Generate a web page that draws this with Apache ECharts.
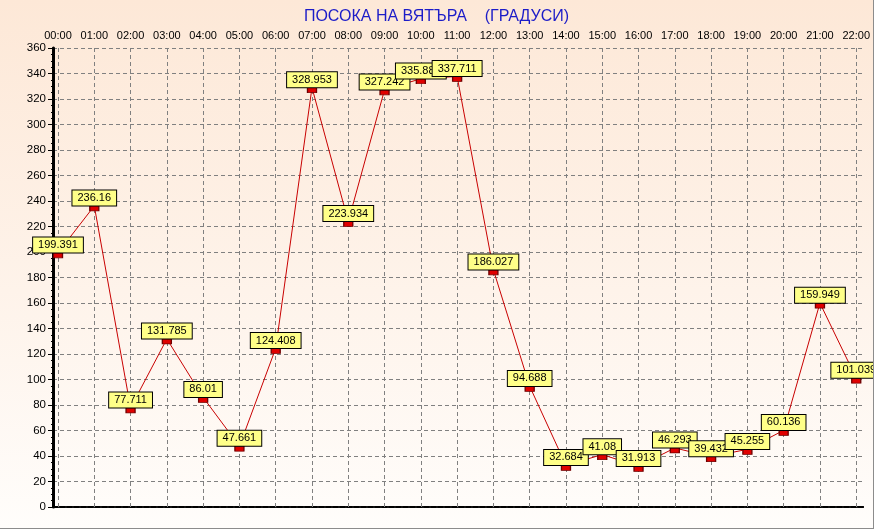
<!DOCTYPE html>
<html>
<head>
<meta charset="utf-8">
<script src="https://cdn.jsdelivr.net/npm/echarts@6/dist/echarts.min.js"></script>
<style>
html,body{margin:0;padding:0;background:#fff;}
#c{width:873px;height:528px;border-right:1px solid #8c8c8c;border-bottom:1px solid #8c8c8c;
background:linear-gradient(to bottom,#fde8d7 0%,#fef3ea 55%,#fffdfb 100%);}
</style>
</head>
<body>
<div id="c"></div>
<script>
var titleText = 'ПОСОКА НА ВЯТЪРА    (ГРАДУСИ)';
var hours = ['00:00','01:00','02:00','03:00','04:00','05:00','06:00','07:00','08:00','09:00','10:00','11:00','12:00','13:00','14:00','15:00','16:00','17:00','18:00','19:00','20:00','21:00','22:00'];
var direction = [199.391,236.16,77.711,131.785,86.01,47.661,124.408,328.953,223.934,327.242,335.884,337.711,186.027,94.688,32.684,41.08,31.913,46.293,39.432,45.255,60.136,159.949,101.039];
var yMin = 0, yMax = 360, yStep = 20;

var chart = echarts.init(document.getElementById('c'), null, {renderer:'canvas'});
var font = 'Liberation Sans, Arial, sans-serif';
var gridDash = {color:'#808080', width:1, type:[4,3]};
chart.setOption({
  animation:false,
  backgroundColor:'transparent',
  title:{text:titleText, left:'center', top:4,
    textStyle:{color:'#1c1cc8', fontSize:16, fontWeight:'normal', fontFamily:font}},
  grid:[
    {left:53, right:9, top:48, bottom:21, show:false},
    {left:58, right:13, top:48, bottom:21}
  ],
  xAxis:[
    {gridIndex:0, type:'value', min:0, max:1, position:'bottom',
      axisLine:{show:true, lineStyle:{color:'#000', width:2, type:[5,2]}},
      axisTick:{show:false}, axisLabel:{show:false}, splitLine:{show:false}},
    {gridIndex:0, type:'value', min:0, max:1, position:'top',
      axisLine:{show:true, lineStyle:{color:'#000', width:2, type:[5,2]}},
      axisTick:{show:false}, axisLabel:{show:false}, splitLine:{show:false}},
    {gridIndex:1, type:'category', data:hours, boundaryGap:false, position:'top',
      axisLine:{show:false},
      axisTick:{show:true, length:4, lineStyle:{color:'#808080'}},
      axisLabel:{show:true, color:'#000', fontSize:11, fontFamily:font, margin:7, interval:0},
      splitLine:{show:true, lineStyle:gridDash}}
  ],
  yAxis:[
    {gridIndex:0, type:'value', min:yMin, max:yMax, interval:yStep,
      axisLine:{show:true, lineStyle:{color:'#000', width:3}},
      axisTick:{show:true, length:5, lineStyle:{color:'#000'}},
      minorTick:{show:true, splitNumber:4, length:2, lineStyle:{color:'#000'}},
      axisLabel:{color:'#000', fontSize:11.5, fontFamily:font, margin:7},
      splitLine:{show:true, lineStyle:gridDash}},
    {gridIndex:0, type:'value', min:yMin, max:yMax, position:'right',
      axisLine:{show:true, lineStyle:{color:'#000', width:1.5}},
      axisTick:{show:false}, axisLabel:{show:false}, splitLine:{show:false}},
    {gridIndex:1, type:'value', min:yMin, max:yMax, show:false}
  ],
  series:[{
    type:'line', xAxisIndex:2, yAxisIndex:2,
    data:direction,
    lineStyle:{color:'#c80000', width:1},
    symbol:'rect', symbolSize:[9,5], symbolOffset:[0,2.5],
    itemStyle:{color:'#e00000', borderColor:'#700000', borderWidth:1},
    label:{show:true, position:'top', distance:0,
      color:'#000', fontSize:11, fontFamily:font, lineHeight:13,
      backgroundColor:'#ffff88', borderColor:'#000', borderWidth:1,
      padding:[1,5,1,5]}
  }]
});
</script>
</body>
</html>
